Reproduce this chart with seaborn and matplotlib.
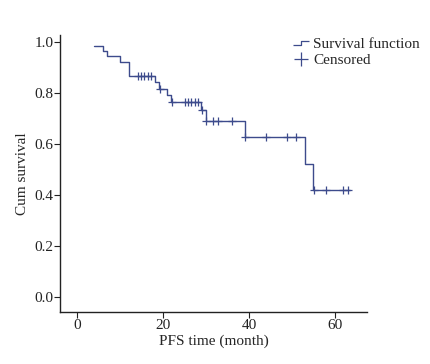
import matplotlib
matplotlib.use("Agg")
import matplotlib.pyplot as plt
from matplotlib.lines import Line2D
from matplotlib.path import Path
import seaborn as sns
import pandas as pd

# Kaplan-Meier steps (months, cum survival)
step_time = [3.9, 6.0, 6.9, 9.9, 12.0, 18.1, 19.0, 20.8, 21.8, 28.9, 29.9, 39.0, 53.1, 54.9, 63.4]
step_surv = [0.986, 0.964, 0.946, 0.924, 0.869, 0.843, 0.817, 0.791, 0.765, 0.732, 0.689, 0.627, 0.523, 0.418, 0.418]

# Censored observations
cens_time = [14.1, 14.8, 15.5, 16.4, 17.1, 19.2, 22.0, 25.0, 25.7, 26.4, 27.3, 28.0,
             29.1, 30.0, 31.6, 32.8, 36.0, 39.0, 44.0, 48.8, 51.0, 55.0, 58.0, 61.9, 63.0]
cens_surv = [0.869, 0.869, 0.869, 0.869, 0.869, 0.817, 0.765, 0.765, 0.765, 0.765, 0.765, 0.765,
             0.732, 0.689, 0.689, 0.689, 0.689, 0.627, 0.627, 0.627, 0.627, 0.418, 0.418, 0.418, 0.418]

x_ticks = [0, 20, 40, 60]
y_ticks = [0.0, 0.2, 0.4, 0.6, 0.8, 1.0]

sns.set_style("ticks")
plt.rcParams['font.family'] = ['Liberation Serif', 'DejaVu Serif']

col = '#3d4b8c'
steps = pd.DataFrame({'t': step_time, 's': step_surv})
cens = pd.DataFrame({'t': cens_time, 's': cens_surv})

fig = plt.figure(figsize=(4.3, 3.64), dpi=100)
ax = fig.add_axes([0.14, 0.143, 0.714, 0.762])

sns.lineplot(data=steps, x='t', y='s', drawstyle='steps-post', estimator=None,
             sort=False, color=col, linewidth=1.0, ax=ax)
ax.plot(cens['t'], cens['s'], linestyle='none', marker='+', markersize=6,
        markeredgewidth=0.9, color=col)

ax.set_xlim(-4, 67.5)
ax.set_ylim(-0.06, 1.03)
ax.set_xticks(x_ticks)
ax.set_yticks(y_ticks)
ax.set_xticklabels([str(v) for v in x_ticks])
ax.set_yticklabels([f"{v:.1f}" for v in y_ticks])
ax.tick_params(direction='out', length=4, width=0.8, labelsize=11, colors='#222222', pad=1)
for sp in ['left', 'bottom']:
    ax.spines[sp].set_linewidth(1.0)
    ax.spines[sp].set_color('#222222')
sns.despine(ax=ax)

ax.set_xlabel('PFS time (month)', fontsize=11, labelpad=2)
ax.set_ylabel('Cum survival', fontsize=11, labelpad=4)

# legend: step glyph and plus sign
step_marker = Path([(-1.0, -0.2), (0.0, -0.2), (0.0, 0.2), (1.0, 0.2)],
                   [Path.MOVETO, Path.LINETO, Path.LINETO, Path.LINETO])
handles = [
    Line2D([], [], linestyle='none', marker=step_marker, markersize=12,
           markerfacecolor='none', markeredgecolor=col, markeredgewidth=0.9),
    Line2D([], [], linestyle='none', marker='+', markersize=10,
           markeredgewidth=0.9, color=col),
]
ax.legend(handles, ['Survival function', 'Censored'], loc='upper right',
          bbox_to_anchor=(1.192, 1.011), frameon=False, fontsize=11,
          handlelength=1.0, handletextpad=0.3, labelspacing=0.15, borderaxespad=0)

fig.savefig('out.png', dpi=100)
